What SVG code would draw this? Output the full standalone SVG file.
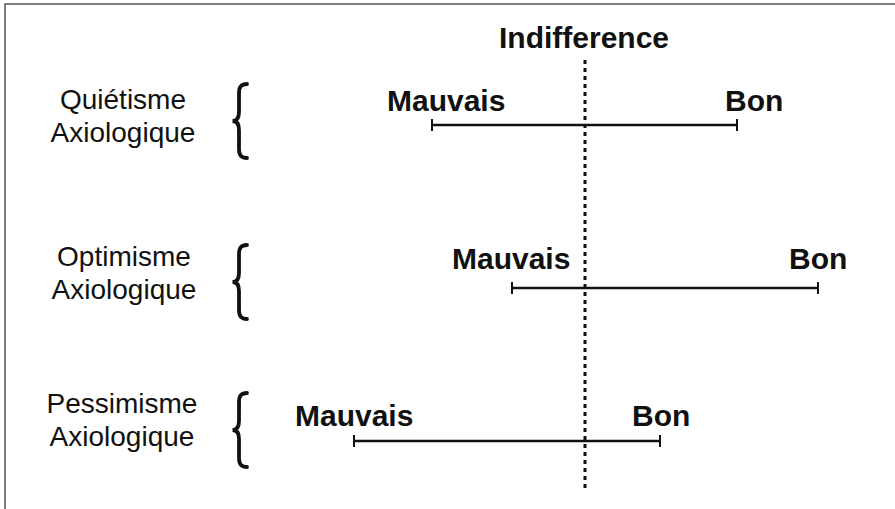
<svg xmlns="http://www.w3.org/2000/svg" width="895" height="509" viewBox="0 0 895 509">
  <style>
    .lbl { font-family: "Liberation Sans", Arial, sans-serif; font-size: 28px; fill: #111; text-anchor: middle; }
    .b { font-family: "Liberation Sans", Arial, sans-serif; font-size: 30px; font-weight: bold; fill: #111; }
    .axis { stroke: #111; stroke-width: 2.5; fill: none; }
    .tick { stroke: #111; stroke-width: 2; }
    .brace { stroke: #111; stroke-width: 3.8; fill: none; stroke-linecap: round; }
    .dots { stroke: #111; stroke-width: 3; stroke-dasharray: 4 4; }
    .frame { stroke: #555; stroke-width: 1.5; fill: none; }
  </style>
  <defs>
    <path id="brace" class="brace" d="M 247,-37 C 241,-37 239,-34 239,-28 L 239,-9 C 239,-3 237,0 232.5,0 C 237,0 239,3 239,9 L 239,28 C 239,34 241,37 247,37"/>
  </defs>
  <rect width="895" height="509" fill="#fff"/>
  <path class="frame" d="M 5,509 L 5,4 L 895,4"/>

  <g id="connectors">
    <line id="indifference-axis" class="dots" x1="585" y1="60" x2="585" y2="492"/>
    <g id="scale-quietisme">
      <line class="axis" x1="432" y1="125" x2="737" y2="125"/>
      <line class="tick" x1="432" y1="119" x2="432" y2="131"/>
      <line class="tick" x1="737" y1="119" x2="737" y2="131"/>
    </g>
    <g id="scale-optimisme">
      <line class="axis" x1="512" y1="288" x2="818" y2="288"/>
      <line class="tick" x1="512" y1="282" x2="512" y2="294"/>
      <line class="tick" x1="818" y1="282" x2="818" y2="294"/>
    </g>
    <g id="scale-pessimisme">
      <line class="axis" x1="354" y1="441" x2="660" y2="441"/>
      <line class="tick" x1="354" y1="435" x2="354" y2="447"/>
      <line class="tick" x1="660" y1="435" x2="660" y2="447"/>
    </g>
  </g>

  <g id="indifference">
    <text class="b" x="584" y="48" text-anchor="middle">Indifference</text>
  </g>

  <g id="quietisme">
    <text class="lbl" x="123" y="109">Quiétisme</text>
    <text class="lbl" x="123" y="142">Axiologique</text>
    <use href="#brace" transform="translate(0,121)"/>
  </g>
  <g id="quietisme-mauvais"><text class="b" x="387" y="111">Mauvais</text></g>
  <g id="quietisme-bon"><text class="b" x="725" y="111">Bon</text></g>

  <g id="optimisme">
    <text class="lbl" x="124" y="266">Optimisme</text>
    <text class="lbl" x="124" y="299">Axiologique</text>
    <use href="#brace" transform="translate(0,282)"/>
  </g>
  <g id="optimisme-mauvais"><text class="b" x="452" y="269">Mauvais</text></g>
  <g id="optimisme-bon"><text class="b" x="789" y="269">Bon</text></g>

  <g id="pessimisme">
    <text class="lbl" x="122" y="413">Pessimisme</text>
    <text class="lbl" x="122" y="446">Axiologique</text>
    <use href="#brace" transform="translate(0,430)"/>
  </g>
  <g id="pessimisme-mauvais"><text class="b" x="295" y="426">Mauvais</text></g>
  <g id="pessimisme-bon"><text class="b" x="632" y="426">Bon</text></g>
</svg>
